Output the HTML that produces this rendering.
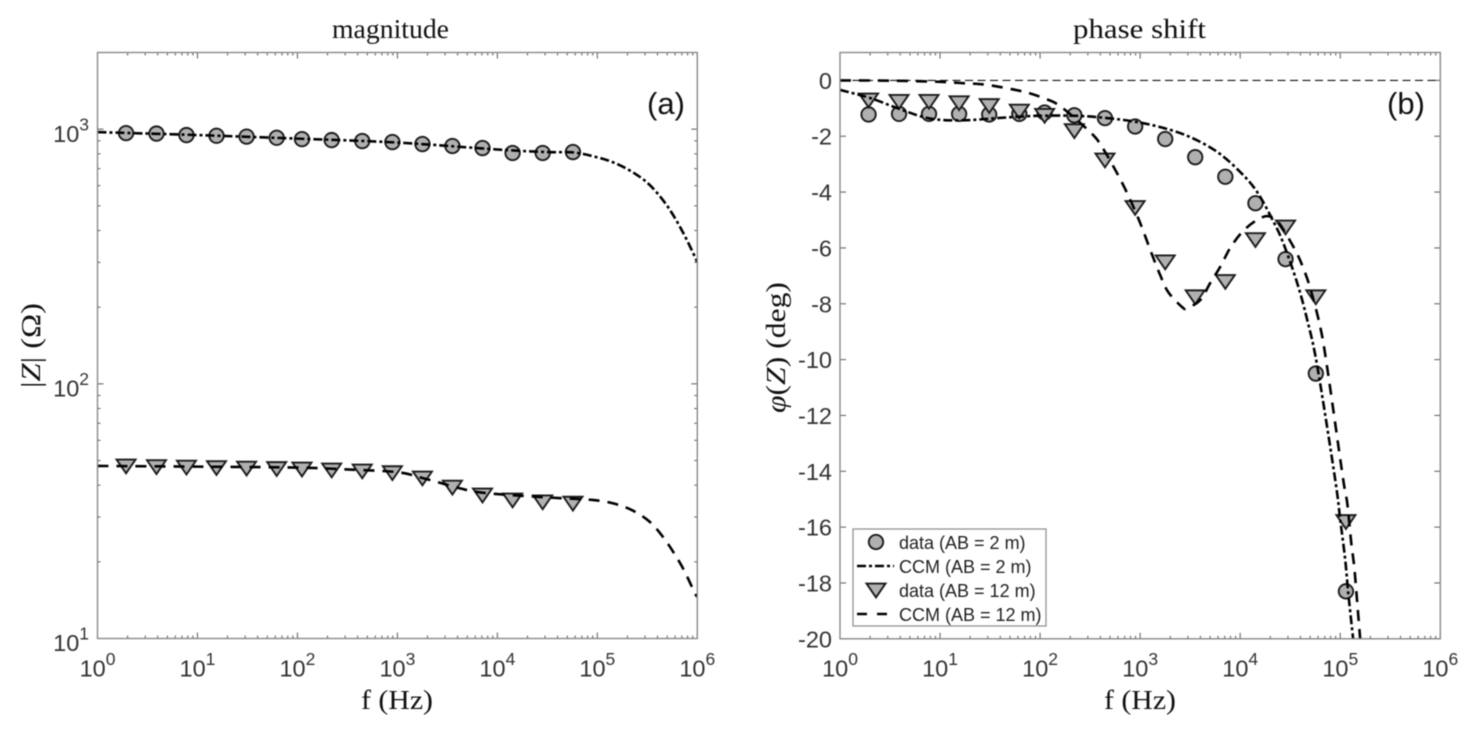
<!DOCTYPE html>
<html>
<head>
<meta charset="utf-8">
<title>Magnitude and phase shift</title>
<style>
html,body{margin:0;padding:0;background:#fff;width:1476px;height:735px;overflow:hidden}
svg{display:block;filter:blur(0.4px)}
.tick-label{font-family:"Liberation Sans",sans-serif;font-size:23.5px;fill:#333}
.serif{font-family:"Liberation Serif",serif;fill:#111}
.legend-text{font-family:"Liberation Sans",sans-serif;font-size:18px;fill:#222}
.panel-tag{font-family:"Liberation Sans",sans-serif;font-size:31px;fill:#111}
</style>
</head>
<body>
<svg id="figure" width="1476" height="735" viewBox="0 0 1476 735" xmlns="http://www.w3.org/2000/svg">
  <defs>
    <clipPath id="clip-a"><rect x="97.5" y="52.5" width="600" height="586"/></clipPath>
    <clipPath id="clip-b"><rect x="840" y="52.5" width="600.3" height="586.3"/></clipPath>
  </defs>
  <g id="axes-a"></g>
  <g id="axes-b"></g>

  <text class="serif" x="332" y="38" font-size="27" textLength="117" lengthAdjust="spacingAndGlyphs">magnitude</text>
  <text class="serif" x="1073" y="38" font-size="27" textLength="133" lengthAdjust="spacingAndGlyphs">phase shift</text>

  <text class="serif" x="361" y="709" font-size="27" textLength="72" lengthAdjust="spacingAndGlyphs">f (Hz)</text>
  <text class="serif" x="1104" y="709" font-size="27" textLength="72" lengthAdjust="spacingAndGlyphs">f (Hz)</text>

  <text class="serif" transform="translate(40,388) rotate(-90)" font-size="27" textLength="85" lengthAdjust="spacingAndGlyphs">|<tspan font-style="italic">Z</tspan>| (Ω)</text>
  <text class="serif" transform="translate(785,413) rotate(-90)" font-size="27" textLength="131" lengthAdjust="spacingAndGlyphs"><tspan font-style="italic">φ</tspan>(<tspan font-style="italic">Z</tspan>) (deg)</text>

  <text class="panel-tag" x="647" y="114">(a)</text>
  <text class="panel-tag" x="1387" y="114">(b)</text>

  <g>
    <rect x="853" y="529" width="193" height="97" fill="#fff" stroke="#8a8a8a" stroke-width="1.2"/>
    <circle cx="876" cy="542" r="7.2" fill="#b0b0b0" stroke="#1c1c1c" stroke-width="1.9"/>
    <text class="legend-text" x="899" y="549">data (AB = 2 m)</text>
    <line x1="857" y1="566" x2="894" y2="566" stroke="#000" stroke-width="2.6" stroke-dasharray="9 3 3 3"/>
    <text class="legend-text" x="899" y="573">CCM (AB = 2 m)</text>
    <polygon points="866.5,583.6 885.5,583.6 876,597.4" fill="#b0b0b0" stroke="#1c1c1c" stroke-width="1.9" stroke-linejoin="miter"/>
    <text class="legend-text" x="899" y="597">data (AB = 12 m)</text>
    <line x1="857" y1="614" x2="887" y2="614" stroke="#000" stroke-width="2.6" stroke-dasharray="10 10"/>
    <text class="legend-text" x="899" y="621">CCM (AB = 12 m)</text>
  </g>
</svg>
<script>
// ---- measured frequencies (Hz) of the data markers
const freqHz = [1.93, 3.89, 7.76, 15.5, 31, 62, 111, 220, 445, 891, 1780, 3550, 7100, 14200, 28400, 57000];
const freqHzPhase = [1.93, 3.89, 7.76, 15.5, 31, 62, 111, 220, 445, 891, 1780, 3550, 7100, 14200, 28400, 57000, 114000];

// ---- panel (a): |Z| in ohm
const magData2m = [965, 961, 948, 942, 935, 925, 914, 906, 898, 890, 874, 859, 843, 806, 806, 813];
const magData12m = [47.6, 47.3, 47.1, 46.9, 46.7, 46.5, 46.3, 45.9, 45.5, 44.8, 42.7, 39.3, 36.6, 35.0, 34.4, 34.0];

const magCcm2mLogF = [0, 1, 2, 3, 4, 4.5, 4.75, 4.95, 5.15, 5.35, 5.525, 5.7, 5.86, 6];
const magCcm2m = [974, 948, 918, 886, 832, 813, 811, 784, 743, 679, 603, 499, 391, 301];

const magCcm12mLogF = [0, 1, 2, 2.5, 3, 3.25, 3.5, 3.75, 4, 4.5, 4.95, 5.175, 5.355, 5.525, 5.655, 5.765, 5.865, 5.975, 6];
const magCcm12m = [47.6, 47.3, 46.9, 46.1, 45.0, 42.7, 40.1, 37.9, 36.9, 35.8, 35.0, 33.8, 31.8, 28.7, 25.1, 21.7, 18.6, 15.1, 14.6];

// ---- panel (b): phase in degrees
const phaseData2m = [-1.22, -1.2, -1.2, -1.2, -1.22, -1.2, -1.15, -1.25, -1.35, -1.65, -2.1, -2.75, -3.45, -4.4, -6.4, -10.5, -18.3];
const phaseData12m = [-0.7, -0.75, -0.75, -0.8, -0.9, -1.1, -1.25, -1.8, -2.85, -4.55, -6.5, -7.75, -7.2, -5.7, -5.25, -7.75, -15.8];

const phaseCcm2mLogF = [0, 0.3, 0.57, 0.83, 1.03, 1.3, 1.57, 1.97, 2.37, 2.67, 2.95, 3.23, 3.5, 3.77, 4.0, 4.17, 4.33, 4.43, 4.57, 4.67, 4.77, 4.95, 5.0, 5.05, 5.08, 5.13];
const phaseCcm2m = [-0.34, -0.63, -0.99, -1.31, -1.42, -1.42, -1.35, -1.27, -1.27, -1.35, -1.48, -1.70, -2.03, -2.56, -3.28, -4.0, -5.04, -5.82, -7.26, -8.58, -10.23, -14.31, -15.74, -17.18, -18.36, -20.04];

const phaseCcm12mLogF = [0, 0.5, 1.0, 1.23, 1.47, 1.83, 2.03, 2.2, 2.5, 2.62, 2.82, 2.98, 3.12, 3.2, 3.28, 3.42, 3.47, 3.6, 3.7, 3.8, 3.9, 4.02, 4.15, 4.27, 4.37, 4.47, 4.57, 4.63, 4.7, 4.8, 4.87, 5.03, 5.07, 5.11, 5.14, 5.17, 5.2];
const phaseCcm12m = [0, -0.01, -0.05, -0.10, -0.16, -0.40, -0.63, -0.92, -1.85, -2.39, -3.67, -4.93, -6.25, -6.97, -7.58, -8.12, -8.15, -7.87, -7.26, -6.68, -6.0, -5.43, -5.04, -4.86, -5.04, -5.57, -6.22, -6.72, -7.44, -8.83, -10.30, -14.31, -15.14, -16.57, -17.43, -18.72, -20.04];

// ---- tick labels
const xTickExponents = [0, 1, 2, 3, 4, 5, 6];
const magTickExponents = [1, 2, 3];
const phaseTicks = [0, -2, -4, -6, -8, -10, -12, -14, -16, -18, -20];
const zeroReference = [0];

// ---- axis functions
const NS = 'http://www.w3.org/2000/svg';
const xA = lf => 97.5 + (lf - 0) * 599.8 / 6;
const xB = lf => 840 + (lf - 0) * 600.3 / 6;
const yA = v => 638.5 - (Math.log10(v) - 1) * 586 / (Math.log10(2000) - 1);
const yB = v => 80.4 - v * 27.92;

function mk(tag, parent) {
  const el = document.createElementNS(NS, tag);
  parent.appendChild(el);
  return el;
}
function tick(parent, x1, y1, x2, y2, name) {
  const l = mk('line', parent);
  l.setAttribute('x1', x1); l.setAttribute('y1', y1);
  l.setAttribute('x2', x2); l.setAttribute('y2', y2);
  l.setAttribute('stroke', '#5a5a5a');
  l.setAttribute('stroke-width', '1');
  
  
}
function frame(parent, x, y, w, h, name) {
  const r = mk('rect', parent);
  r.setAttribute('x', x); r.setAttribute('y', y);
  r.setAttribute('width', w); r.setAttribute('height', h);
  r.setAttribute('fill', 'none');
  r.setAttribute('stroke', '#8a8a8a');
  r.setAttribute('stroke-width', '1.4');
  
  
}
function powerLabel(parent, x, y, anchor, exp, name) {
  const t = mk('text', parent);
  t.setAttribute('class', 'tick-label');
  t.setAttribute('x', x); t.setAttribute('y', y);
  t.setAttribute('text-anchor', anchor);
  
  
  t.appendChild(document.createTextNode('10'));
  const s = mk('tspan', t);
  s.setAttribute('dy', '-11.5');
  s.setAttribute('font-size', '17.5');
  s.textContent = String(exp);
}
function plainLabel(parent, x, y, text, name) {
  const t = mk('text', parent);
  t.setAttribute('class', 'tick-label');
  t.setAttribute('x', x); t.setAttribute('y', y);
  t.setAttribute('text-anchor', 'end');
  
  
  t.textContent = text;
}
function logXTicks(g, xf, top, bottom) {
  xTickExponents.forEach(e => {
    const px = xf(e);
    tick(g, px, bottom, px, bottom - 6, 'x-major-tick-bottom');
    tick(g, px, top, px, top + 6, 'x-major-tick-top');
    powerLabel(g, px, 676.5, 'middle', e, 'x-tick-label');
    if (e < xTickExponents[xTickExponents.length - 1]) {
      for (let d = 2; d < 10; d++) {
        const m = xf(e + Math.log10(d));
        tick(g, m, bottom, m, bottom - 3, 'x-minor-tick-bottom');
        tick(g, m, top, m, top + 3, 'x-minor-tick-top');
      }
    }
  });
}
function smoothPath(pts) {
  let d = 'M' + pts[0][0].toFixed(2) + ' ' + pts[0][1].toFixed(2);
  for (let i = 0; i < pts.length - 1; i++) {
    const p0 = pts[Math.max(0, i - 1)], p1 = pts[i], p2 = pts[i + 1], p3 = pts[Math.min(pts.length - 1, i + 2)];
    const c1x = p1[0] + (p2[0] - p0[0]) / 6, c1y = p1[1] + (p2[1] - p0[1]) / 6;
    const c2x = p2[0] - (p3[0] - p1[0]) / 6, c2y = p2[1] - (p3[1] - p1[1]) / 6;
    d += 'C' + c1x.toFixed(2) + ' ' + c1y.toFixed(2) + ' ' + c2x.toFixed(2) + ' ' + c2y.toFixed(2) + ' ' + p2[0].toFixed(2) + ' ' + p2[1].toFixed(2);
  }
  return d;
}
function curve(parent, lfs, vals, xf, yf, dash, clip, name) {
  const p = mk('path', parent);
  p.setAttribute('d', smoothPath(lfs.map((lf, i) => [xf(lf), yf(vals[i])])));
  p.setAttribute('fill', 'none');
  p.setAttribute('stroke', '#000');
  p.setAttribute('stroke-width', '2.6');
  p.setAttribute('stroke-dasharray', dash);
  p.setAttribute('clip-path', clip);
  
  
}
function circles(parent, freqs, vals, xf, yf, name) {
  freqs.forEach((f, i) => {
    const c = mk('circle', parent);
    c.setAttribute('cx', xf(Math.log10(f)));
    c.setAttribute('cy', yf(vals[i]));
    c.setAttribute('r', '7.2');
    c.setAttribute('fill', '#b0b0b0');
    c.setAttribute('stroke', '#1c1c1c');
    c.setAttribute('stroke-width', '1.9');
    
    
  });
}
function triangles(parent, freqs, vals, xf, yf, name) {
  freqs.forEach((f, i) => {
    const x = xf(Math.log10(f)), y = yf(vals[i]);
    const t = mk('polygon', parent);
    t.setAttribute('points', (x - 9.5) + ',' + (y - 6.4) + ' ' + (x + 9.5) + ',' + (y - 6.4) + ' ' + x + ',' + (y + 7.4));
    t.setAttribute('fill', '#b0b0b0');
    t.setAttribute('stroke', '#1c1c1c');
    t.setAttribute('stroke-width', '1.9');
    
    
  });
}

const DASHDOT = '9 3 3 3';
const DASHED = '11 8';

// ---- panel (a)
const gA = document.getElementById('axes-a');
logXTicks(gA, xA, 52.5, 638.5);
magTickExponents.forEach(e => {
  const py = yA(Math.pow(10, e));
  tick(gA, 97.5, py, 103.5, py, 'y-major-tick-left');
  tick(gA, 697.3, py, 691.3, py, 'y-major-tick-right');
  powerLabel(gA, 89, py + 12.7, 'end', e, 'y-tick-label');
});
[1, 2, 3].forEach(e => {
  for (let d = 2; d < 10; d++) {
    const v = d * Math.pow(10, e);
    if (v > 2000) continue;
    const py = yA(v);
    tick(gA, 97.5, py, 100.5, py, 'y-minor-tick-left');
    tick(gA, 697.3, py, 694.3, py, 'y-minor-tick-right');
  }
});
circles(gA, freqHz, magData2m, xA, yA, 'data-point-2m');
triangles(gA, freqHz, magData12m, xA, yA, 'data-point-12m');
curve(gA, magCcm2mLogF, magCcm2m, xA, yA, DASHDOT, 'url(#clip-a)', 'ccm-curve-2m');
curve(gA, magCcm12mLogF, magCcm12m, xA, yA, DASHED, 'url(#clip-a)', 'ccm-curve-12m');
frame(gA, 97.5, 52.5, 599.8, 586, 'magnitude-plot-frame');

// ---- panel (b)
const gB = document.getElementById('axes-b');
logXTicks(gB, xB, 52.5, 638.8);
phaseTicks.forEach(v => {
  const py = yB(v);
  tick(gB, 840, py, 846, py, 'y-major-tick-left');
  tick(gB, 1440.3, py, 1434.3, py, 'y-major-tick-right');
  plainLabel(gB, 832, py + 8.5, String(v), 'y-tick-label');
});
zeroReference.forEach(v => {
  const l = mk('line', gB);
  l.setAttribute('x1', xB(0)); l.setAttribute('x2', xB(6));
  l.setAttribute('y1', yB(v)); l.setAttribute('y2', yB(v));
  l.setAttribute('stroke', '#111');
  l.setAttribute('stroke-width', '1.1');
  l.setAttribute('stroke-dasharray', '8 4.5');
  
  
});
circles(gB, freqHzPhase, phaseData2m, xB, yB, 'data-point-2m');
triangles(gB, freqHzPhase, phaseData12m, xB, yB, 'data-point-12m');
curve(gB, phaseCcm2mLogF, phaseCcm2m, xB, yB, DASHDOT, 'url(#clip-b)', 'ccm-curve-2m');
curve(gB, phaseCcm12mLogF, phaseCcm12m, xB, yB, DASHED, 'url(#clip-b)', 'ccm-curve-12m');
frame(gB, 840, 52.5, 600.3, 586.3, 'phase-plot-frame');
</script>
</body>
</html>
